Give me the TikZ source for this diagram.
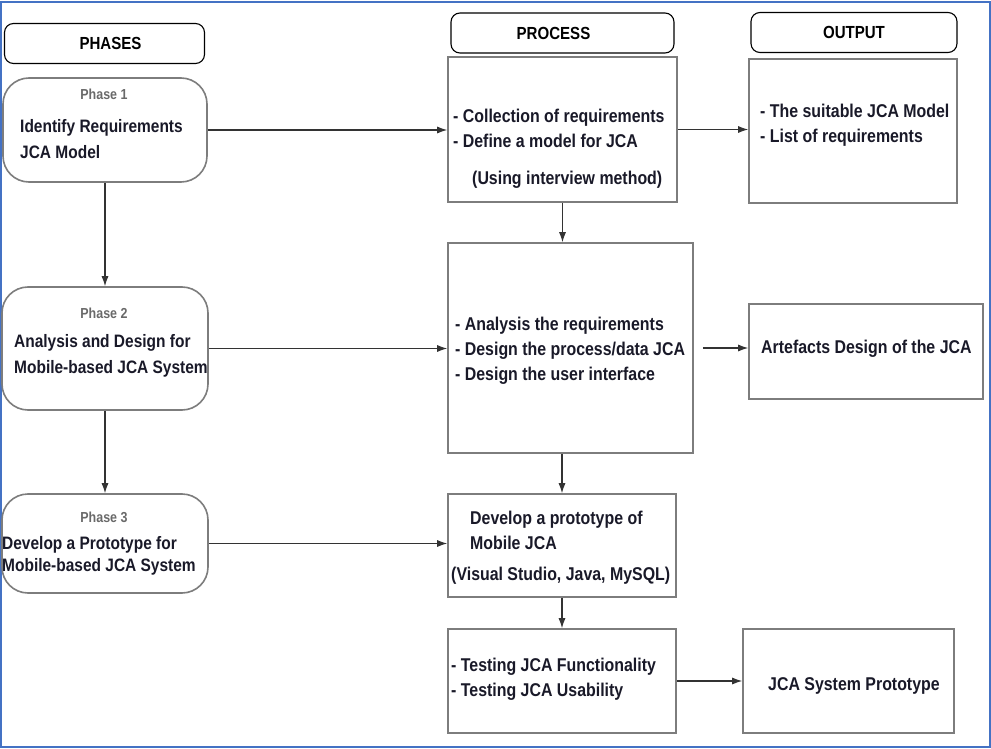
\documentclass[tikz,border=0pt]{standalone}
\usepackage{fontspec}
\setmainfont{Liberation Sans}[FakeStretch=0.86]
\usetikzlibrary{arrows.meta,positioning}
\definecolor{frameblue}{RGB}{68,114,196}
\definecolor{boxgray}{RGB}{125,125,125}
\definecolor{taggray}{RGB}{105,105,105}
\definecolor{textdark}{RGB}{25,25,40}

\begin{document}
\begin{tikzpicture}[
  x=1pt,y=-1pt,
  head/.style={draw,rounded corners=9pt,line width=1.1pt,minimum height=40pt,
               font=\fontsize{17.5}{20}\selectfont\bfseries},
  phase/.style={draw=boxgray,rounded corners=26pt,line width=1.6pt},
  proc/.style={draw=boxgray,line width=1.6pt},
  tag/.style={font=\fontsize{14.5}{16}\selectfont\bfseries,text=taggray,inner sep=0pt},
  phtext/.style={font=\fontsize{18}{26}\selectfont\bfseries,text=textdark,
                 align=left,anchor=west,inner sep=0pt},
  prtext/.style={font=\fontsize{18.5}{25}\selectfont\bfseries,text=textdark,
                 align=left,anchor=west,inner sep=0pt},
  arr/.style={-{Latex[length=10pt,width=7pt]},line width=1.1pt,draw=black!80}
]
\useasboundingbox (0,0) rectangle (991,749);
\draw[frameblue,line width=2pt] (1,2) rectangle (990,747);

% column heads
\node[head,minimum width=200pt] (hphase) at (104.5,43.5) {\hspace*{12pt}PHASES};
\node[head,minimum width=223pt] (hproc)  at (562.5,33)   {PROCESS\hspace*{18pt}};
\node[head,minimum width=206pt] (hout)   at (854,32.5)   {OUTPUT};

% phases
\node[phase,minimum width=204pt,minimum height=104pt] (ph1) at (105,130)   {};
\node[phase,minimum width=206pt,minimum height=123pt] (ph2) at (105,348.5) {};
\node[phase,minimum width=206pt,minimum height=99pt]  (ph3) at (105,543.5) {};
\node[tag] (ph1tag) at (104,94)  {Phase 1};
\node[tag] (ph2tag) at (104,313) {Phase 2};
\node[tag] (ph3tag) at (104,517) {Phase 3};
\node[phtext] (ph1txt) at (20,139)  {Identify Requirements\\JCA Model};
\node[phtext] (ph2txt) at (14,355.5) {Analysis and Design for\\Mobile-based JCA System};
\node[phtext] (ph3txt) at (2,556)   {Develop a Prototype for\\[-4pt]Mobile-based JCA System};

% process
\node[proc,minimum width=229pt,minimum height=145pt] (pr1) at (562.5,129.5) {};
\node[proc,minimum width=245pt,minimum height=210pt] (pr2) at (570.5,348)   {};
\node[proc,minimum width=228pt,minimum height=103pt] (pr3) at (562,545.5)   {};
\node[proc,minimum width=228pt,minimum height=104pt] (pr4) at (562,681)     {};
\node[prtext] (pr1txt) at (453,149) {- Collection of requirements\\- Define a model for JCA\\[12pt]
  \hspace*{19pt}(Using interview method)};
\node[prtext] (pr2txt) at (455,350.5) {- Analysis the requirements\\- Design the process/data JCA\\
  - Design the user interface};
\node[prtext] (pr3txt) at (451,548) {\hspace*{19pt}Develop a prototype of\\\hspace*{19pt}Mobile JCA\\[6pt]
  (Visual Studio, Java, MySQL)};
\node[prtext] (pr4txt) at (451,679.5) {- Testing JCA Functionality\\- Testing JCA Usability};

% output
\node[proc,minimum width=208pt,minimum height=144pt] (ou1) at (853,131)    {};
\node[proc,minimum width=234pt,minimum height=95pt]  (ou2) at (866,351.5)  {};
\node[proc,minimum width=211pt,minimum height=104pt] (ou3) at (848.5,681)  {};
\node[prtext] (ou1txt) at (760,125) {- The suitable JCA Model\\- List of requirements};
\node[prtext] (ou2txt) at (761,349) {Artefacts Design of the JCA};
\node[prtext] (ou3txt) at (768,686) {JCA System Prototype};

% arrows
\draw[arr] (ph1) -- (ph2);
\draw[arr] (ph2) -- (ph3);
\draw[arr] (ph1.east) -- (ph1.east -| pr1.west);
\draw[arr] (ph2.east) -- (ph2.east -| pr2.west);
\draw[arr] (ph3.east) -- (ph3.east -| pr3.west);
\draw[arr] (pr1.south) -- (pr1.south |- pr2.north);
\draw[arr] (pr3.north |- pr2.south) -- (pr3.north);
\draw[arr] (pr3) -- (pr4);
\draw[arr] (pr1.east) -- (pr1.east -| ou1.west);
\draw[arr,shorten <=9pt] (pr2.east) -- (pr2.east -| ou2.west);
\draw[arr] (pr4.east) -- (pr4.east -| ou3.west);
\end{tikzpicture}
\end{document}
